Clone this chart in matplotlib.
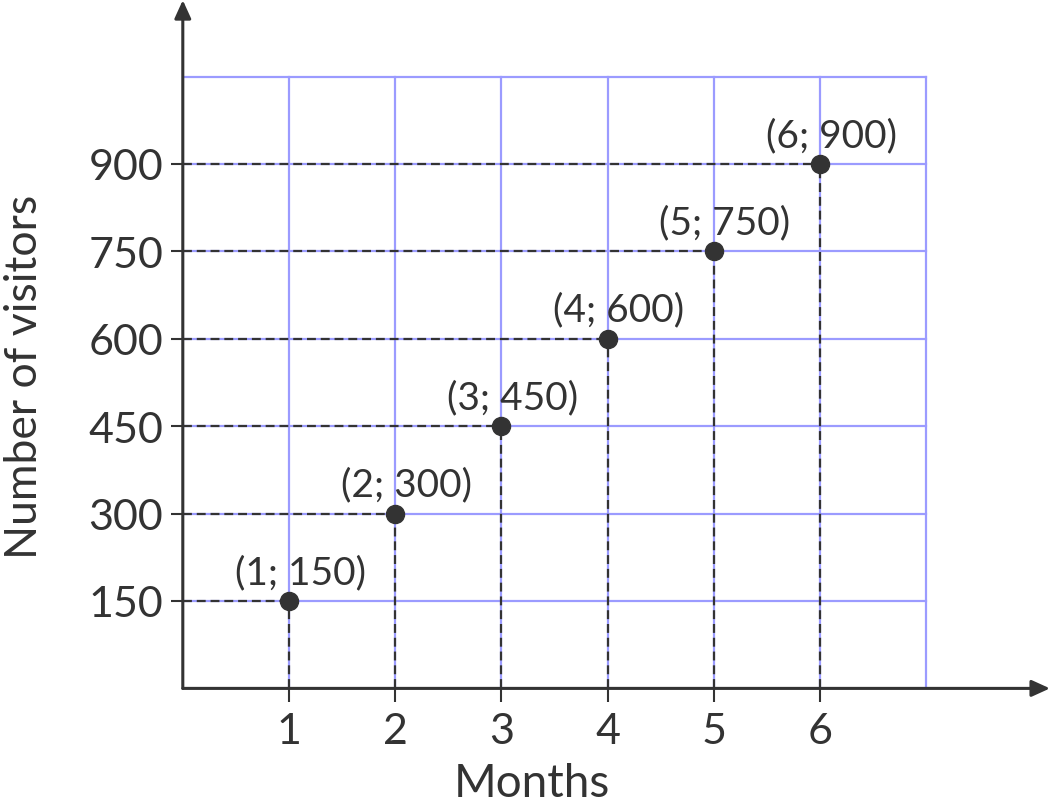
import matplotlib
matplotlib.use("Agg")
import matplotlib.pyplot as plt

months = [1, 2, 3, 4, 5, 6]
visitors = [150, 300, 450, 600, 750, 900]
x_ticks = [1, 2, 3, 4, 5, 6]
y_ticks = [150, 300, 450, 600, 750, 900]
x_grid = [1, 2, 3, 4, 5, 6, 7]
y_grid = [150, 300, 450, 600, 750, 900, 1050]
x_label = "Months"
y_label = "Number of visitors"

W, H = 1051, 803
DARK = "#333333"
GRID = "#9b9bff"
FONT = "Lato"

fig = plt.figure(figsize=(W / 100, H / 100), dpi=100)
ox, oy = 182.8, 689.4
ux, uy = 106.2, 87.4 / 150
ax = fig.add_axes([ox / W, (H - oy) / H, (W - ox) / W, oy / H])
ax.set_xlim(0, (W - ox) / ux)
ax.set_ylim(0, oy / uy)
for s in ax.spines.values():
    s.set_visible(False)

xg_max = x_grid[-1]
yg_max = y_grid[-1]
# grid
for xv in x_grid:
    ax.plot([xv, xv], [0, yg_max], color=GRID, lw=1.6, zorder=1)
for yv in y_grid:
    ax.plot([0, xg_max], [yv, yv], color=GRID, lw=1.6, zorder=1)

# dashed guide lines
for xv, yv in zip(months, visitors):
    ax.plot([0, xv], [yv, yv], color=DARK, lw=1.6, ls=(0, (4, 2.2)), zorder=2)
    ax.plot([xv, xv], [0, yv], color=DARK, lw=1.6, ls=(0, (4, 2.2)), zorder=2)

# points
ax.plot(months, visitors, 'o', color=DARK, ms=13, zorder=4)
for xv, yv in zip(months, visitors):
    ax.annotate(f"({xv}; {yv})", (xv, yv), xytext=(8, 8), textcoords="offset points",
                ha="center", va="bottom", fontsize=28, color=DARK, family=FONT, zorder=5)

# axes with arrows
xmax = ax.get_xlim()[1]
ymax = ax.get_ylim()[1]
ax.annotate("", xy=(xmax - 0.01, 0), xytext=(0, 0),
            arrowprops=dict(arrowstyle="-|>,head_length=1.1,head_width=0.5", color=DARK, lw=2.2,
                            shrinkA=0, shrinkB=0), annotation_clip=False, zorder=6)
ax.annotate("", xy=(0, ymax - 2), xytext=(0, 0),
            arrowprops=dict(arrowstyle="-|>,head_length=1.1,head_width=0.5", color=DARK, lw=2.2,
                            shrinkA=0, shrinkB=0), annotation_clip=False, zorder=6)

ax.set_xticks(x_ticks)
ax.set_yticks(y_ticks)
ax.set_xticklabels([str(v) for v in x_ticks], family=FONT, fontsize=31, color=DARK)
ax.set_yticklabels([str(v) for v in y_ticks], family=FONT, fontsize=31, color=DARK)
ax.tick_params(axis="x", direction="out", length=10, width=1.5, color=DARK, pad=7)
ax.tick_params(axis="y", direction="out", length=9, width=1.5, color=DARK, pad=5)

fig.text(532 / W, (H - 797) / H, x_label, ha="center", va="baseline",
         fontsize=33, color=DARK, family=FONT)
fig.text(25 / W, (H - 377) / H, y_label, ha="center", va="center", rotation=90,
         fontsize=32, color=DARK, family=FONT)

fig.savefig("out.png", dpi=100)
